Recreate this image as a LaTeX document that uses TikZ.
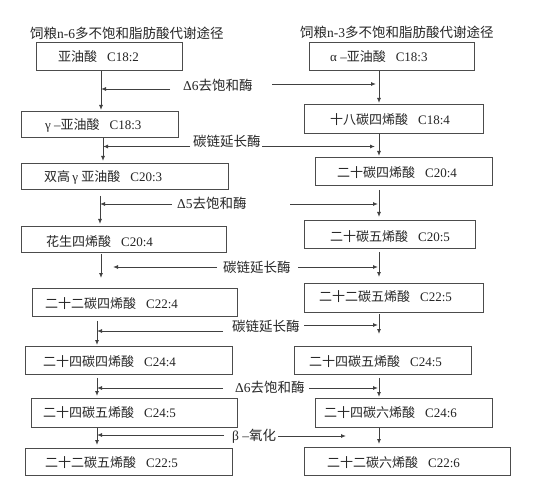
\documentclass[tikz,border=0pt]{standalone}
\usepackage{fontspec}
\setmainfont{Liberation Serif}
\newfontfamily\cjk{Noto Sans CJK SC}
\usetikzlibrary{arrows.meta}
\newcommand\zh[1]{{\cjk #1}}
\newcommand\gp{\hspace{10pt}}
\newcommand\mkbox[8]{%
  \pgfmathsetmacro\bw{#4-#2}\pgfmathsetmacro\bh{#5-#3}%
  \node[fabox, minimum width=\bw pt, minimum height=\bh pt] (#1) at (#2,#3) {};
  \node[txt] (#1t) at (#6,#7) {#8};}
\tikzset{
  fabox/.style={draw=black!70, line width=0.9pt, inner sep=0pt, anchor=north west},
  txt/.style={inner sep=0pt, anchor=west, font=\fontsize{13}{15}\selectfont, text=black!85},
  lab/.style={inner sep=0pt, anchor=west, font=\fontsize{13.5}{15}\selectfont, text=black!85},
  ttl/.style={inner sep=0pt, anchor=west, font=\fontsize{13.5}{15}\selectfont, text=black!85},
  arr/.style={draw=black!75, line width=0.9pt, -{Latex[length=5pt,width=4pt]}}
}
\begin{document}
\begin{tikzpicture}[x=1pt,y=-1pt]
\fill[white] (0,0) rectangle (544,492);
\useasboundingbox (0,0) rectangle (544,492);
% titles
\node[ttl] (tl) at (30,33) {\zh{饲粮}n-6\zh{多不饱和脂肪酸代谢途径}};
\node[ttl] (tr) at (300,32) {\zh{饲粮}n-3\zh{多不饱和脂肪酸代谢途径}};
% left boxes
\mkbox{L1}{36}{42}{182}{70}{58}{57}{\zh{亚油酸}\gp C18:2}
\mkbox{L2}{21}{111}{178}{137}{45}{125}{γ –\zh{亚油酸}\gp C18:3}
\mkbox{L3}{21}{163}{228}{189}{44}{177}{\zh{双高}\,γ\ \zh{亚油酸}\gp C20:3}
\mkbox{L4}{21}{226}{226}{252}{46}{242}{\zh{花生四烯酸}\gp C20:4}
\mkbox{L5}{32}{288}{237}{316}{45}{304}{\zh{二十二碳四烯酸}\gp C22:4}
\mkbox{L6}{25}{346}{232}{374}{43}{362}{\zh{二十四碳四烯酸}\gp C24:4}
\mkbox{L7}{31}{398}{237}{427}{43}{413}{\zh{二十四碳五烯酸}\gp C24:5}
\mkbox{L8}{25}{448}{232}{475}{45}{463}{\zh{二十二碳五烯酸}\gp C22:5}
% right boxes
\mkbox{R1}{309}{42}{474}{70}{330}{57}{α –\zh{亚油酸}\gp C18:3}
\mkbox{R2}{304}{104}{483}{133}{330}{120}{\zh{十八碳四烯酸}\gp C18:4}
\mkbox{R3}{315}{157}{492}{185}{337}{173}{\zh{二十碳四烯酸}\gp C20:4}
\mkbox{R4}{304}{220}{475}{248}{330}{237}{\zh{二十碳五烯酸}\gp C20:5}
\mkbox{R5}{304}{283}{483}{312}{319}{297}{\zh{二十二碳五烯酸}\gp C22:5}
\mkbox{R6}{294}{346}{471}{374}{309}{362}{\zh{二十四碳五烯酸}\gp C24:5}
\mkbox{R7}{315}{398}{492}{427}{324}{413}{\zh{二十四碳六烯酸}\gp C24:6}
\mkbox{R8}{304}{447}{510}{475}{327}{463}{\zh{二十二碳六烯酸}\gp C22:6}
% vertical line positions
\coordinate (xl1) at (101,0);
\coordinate (xl2) at (103,0);
\coordinate (xl3) at (100,0);
\coordinate (xl4) at (101,0);
\coordinate (xl5) at (97,0);
\coordinate (xl6) at (97,0);
\coordinate (xl7) at (97,0);
\coordinate (xr) at (379,0);
% left verticals
\draw[arr, shorten >=1pt] (xl1 |- L1.south) -- (xl1 |- L2.north);
\draw[arr, shorten >=2pt] (xl2 |- L2.south) -- (xl2 |- L3.north);
\draw[arr, shorten <=6pt, shorten >=2pt] (xl3 |- L3.south) -- (xl3 |- L4.north);
\draw[arr, shorten <=1pt, shorten >=10pt] (xl4 |- L4.south) -- (xl4 |- L5.north);
\draw[arr, shorten <=4pt, shorten >=1pt] (xl5 |- L5.south) -- (xl5 |- L6.north);
\draw[arr, shorten <=3pt, shorten >=2pt] (xl6 |- L6.south) -- (xl6 |- L7.north);
\draw[arr, shorten >=3pt] (xl7 |- L7.south) -- (xl7 |- L8.north);
% right verticals
\draw[arr, shorten >=1pt] (xr |- R1.south) -- (xr |- R2.north);
\draw[arr, shorten >=1pt] (xr |- R2.south) -- (xr |- R3.north);
\draw[arr, shorten <=4pt, shorten >=3pt] (xr |- R3.south) -- (xr |- R4.north);
\draw[arr, shorten <=3pt, shorten >=6pt] (xr |- R4.south) -- (xr |- R5.north);
\draw[arr, shorten <=1pt, shorten >=12pt] (xr |- R5.south) -- (xr |- R6.north);
\draw[arr, shorten <=3pt, shorten >=1pt] (xr |- R6.south) -- (xr |- R7.north);
\draw[arr, shorten >=3pt] (xr |- R7.south) -- (xr |- R8.north);
% enzyme 1
\node[lab] (n1) at (183,85) {Δ6\zh{去饱和酶}};
\coordinate (e1a) at (170,89); \coordinate (e1b) at (272,84);
\draw[arr] (e1a) -- (e1a -| xl1);
\draw[arr, shorten >=3pt] (e1b) -- (e1b -| xr);
% enzyme 2
\node[lab] (n2) at (193,141) {\zh{碳链延长酶}};
\coordinate (e2a) at (190,146.5); \coordinate (e2b) at (262,146.5);
\draw[arr] (e2a) -- (e2a -| xl2);
\draw[arr, shorten >=4pt] (e2b) -- (e2b -| xr);
% enzyme 3
\node[lab] (n3) at (177,203) {Δ5\zh{去饱和酶}};
\coordinate (e3a) at (172,204); \coordinate (e3b) at (290,204);
\draw[arr] (e3a) -- (e3a -| xl3);
\draw[arr, shorten >=1pt] (e3b) -- (e3b -| xr);
% enzyme 4
\node[lab] (n4) at (223,267) {\zh{碳链延长酶}};
\coordinate (e4a) at (217,267); \coordinate (e4b) at (298,267);
\draw[arr, shorten >=12pt] (e4a) -- (e4a -| xl4);
\draw[arr, shorten >=1pt] (e4b) -- (e4b -| xr);
% enzyme 5
\node[lab] (n5) at (232,326) {\zh{碳链延长酶}};
\coordinate (e5a) at (223,331); \coordinate (e5b) at (304,325);
\draw[arr] (e5a) -- (e5a -| xl5);
\draw[arr, shorten >=1pt] (e5b) -- (e5b -| xr);
% enzyme 6
\node[lab] (n6) at (235,387) {Δ6\zh{去饱和酶}};
\coordinate (e6a) at (223,388); \coordinate (e6b) at (309,388);
\draw[arr] (e6a) -- (e6a -| xl6);
\draw[arr, shorten >=1pt] (e6b) -- (e6b -| xr);
% enzyme 7
\node[lab] (n7) at (232,436) {β –\zh{氧化}};
\coordinate (e7a) at (224,435); \coordinate (e7b) at (278,436); \coordinate (e7e) at (346,436);
\draw[arr] (e7a) -- (e7a -| xl7);
\draw[arr] (e7b) -- (e7e);
\end{tikzpicture}
\end{document}
